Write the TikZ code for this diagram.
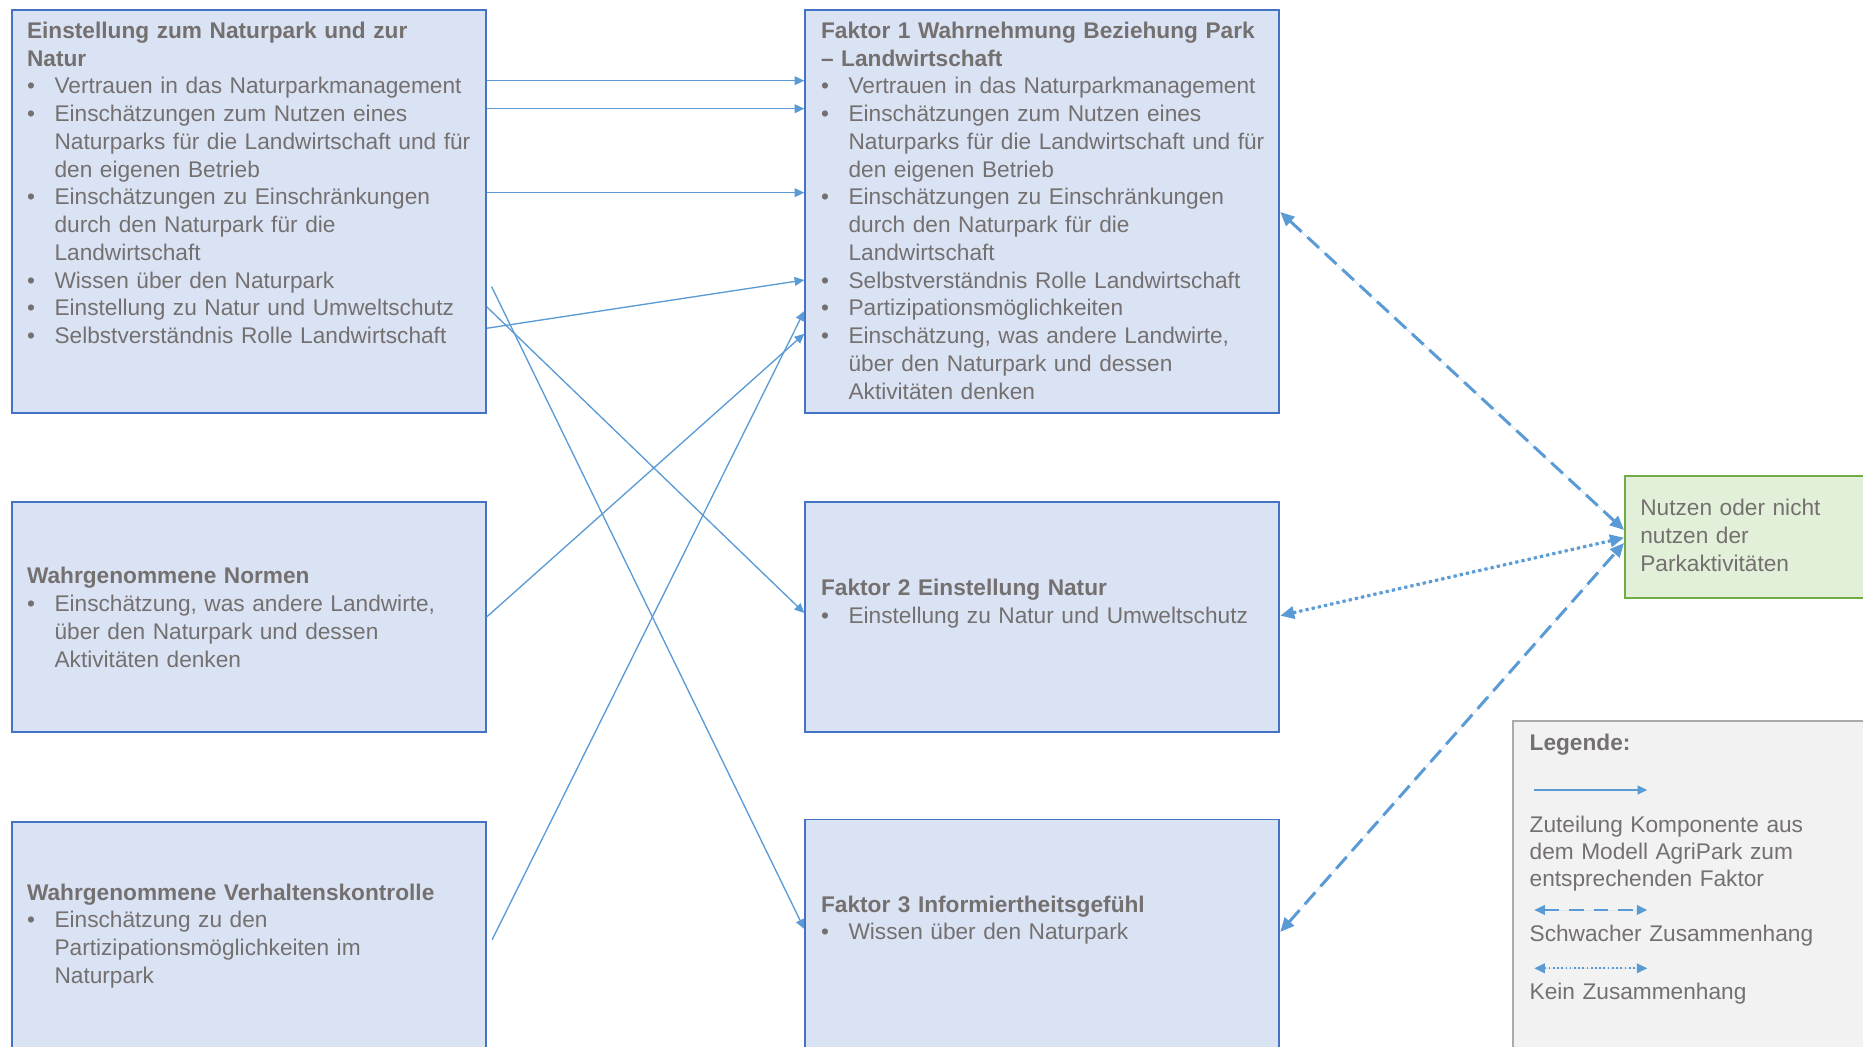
\documentclass[tikz,border=0pt]{standalone}
\usepackage{fontspec}
\setmainfont{Liberation Sans}
\usetikzlibrary{arrows.meta, positioning, calc}
\definecolor{BoxFill}{HTML}{DAE3F3}
\definecolor{BoxLine}{HTML}{4472C4}
\definecolor{Link}{HTML}{5B9BD5}
\definecolor{Txt}{HTML}{757070}
\definecolor{GreenFill}{HTML}{E2F0D9}
\definecolor{GreenLine}{HTML}{70AD47}
\definecolor{LegFill}{HTML}{F2F2F2}
\definecolor{LegLine}{HTML}{ABABAB}
\newcommand{\bul}[1]{\par\hangindent=0.55cm\hangafter=1\noindent\makebox[0.55cm][l]{\textbullet}#1\par}

\begin{document}
\begin{tikzpicture}[
    x=1cm,
    y=1cm,
    font=\fontsize{12.9}{15.8}\selectfont,
    comp/.style={draw=BoxLine, fill=BoxFill, line width=1.1pt, minimum width=9.48cm, anchor=north west, inner sep=0pt},
    bigbox/.style={comp, minimum height=8.054cm},
    lowbox/.style={comp, minimum height=4.586cm},
    txt/.style={text=Txt, text width=9cm, align=left, inner sep=0pt, anchor=base west},
    assign/.style={-{Triangle[length=5.5pt,width=5pt]}, line width=0.75pt, draw=Link, fill=Link},
    weak/.style={{Triangle[length=8pt,width=7pt]}-{Triangle[length=8pt,width=7pt]}, line width=1.7pt, draw=Link, fill=Link, dash pattern=on 9pt off 4.5pt},
    nolink/.style={{Triangle[length=8pt,width=7pt]}-{Triangle[length=8pt,width=7pt]}, line width=1.8pt, draw=Link, fill=Link, dash pattern=on 1.8pt off 1.8pt},
    legweak/.style={{Triangle[length=6pt,width=5.5pt]}-{Triangle[length=6pt,width=5.5pt]}, line width=1.2pt, draw=Link, fill=Link, dash pattern=on 8.5pt off 5.5pt},
    legnolink/.style={{Triangle[length=6pt,width=5.5pt]}-{Triangle[length=6pt,width=5.5pt]}, line width=1pt, draw=Link, fill=Link, dash pattern=on 1pt off 1.4pt}
  ]
  \useasboundingbox (0,0) rectangle (37.26,-20.94);
  \clip (0,0) rectangle (37.26,-20.94);
  \fill[white] (0,0) rectangle (37.26,-20.94);

  \node[bigbox] (einst) at (0.214,-0.19) {};
  \node[lowbox] (normen) at (0.214,-10.026) {};
  \node[lowbox, minimum height=4.7cm] (kontrolle) at (0.214,-16.42) {};

  \node[bigbox] (faktorEins) at (16.086,-0.19) {};
  \node[lowbox] (faktorZwei) at (16.086,-10.026) {};
  \node[lowbox, minimum height=4.7cm] (faktorDrei) at (16.086,-16.37) {};

  \node[draw=GreenLine, fill=GreenFill, line width=1.1pt, minimum width=6cm, minimum height=2.44cm, anchor=north west, inner sep=0pt] (nutzen) at (32.48,-9.5) {};
  \node[draw=LegLine, fill=LegFill, line width=1.1pt, minimum width=8cm, minimum height=7cm, anchor=north west, inner sep=0pt] (legende) at (30.24,-14.4) {};

  \node[txt] (einstText) at ([shift={(0.32,-0.576)}]einst.north west) {\textbf{Einstellung zum Naturpark und zur}\newline\textbf{Natur}
    \bul{Vertrauen in das Naturparkmanagement}
    \bul{Einschätzungen zum Nutzen eines\newline Naturparks für die Landwirtschaft und für\newline den eigenen Betrieb}
    \bul{Einschätzungen zu Einschränkungen\newline durch den Naturpark für die\newline Landwirtschaft}
    \bul{Wissen über den Naturpark}
    \bul{Einstellung zu Natur und Umweltschutz}
    \bul{Selbstverständnis Rolle Landwirtschaft}};
  \node[txt] (normenText) at ([shift={(0.32,-1.654)}]normen.north west) {\textbf{Wahrgenommene Normen}
    \bul{Einschätzung, was andere Landwirte,\newline über den Naturpark und dessen\newline Aktivitäten denken}};
  \node[txt] (kontrolleText) at ([shift={(0.32,-1.58)}]kontrolle.north west) {\textbf{Wahrgenommene Verhaltenskontrolle}
    \bul{Einschätzung zu den\newline Partizipationsmöglichkeiten im\newline Naturpark}};

  \node[txt] (faktorEinsText) at ([shift={(0.328,-0.576)}]faktorEins.north west) {\textbf{Faktor 1 Wahrnehmung Beziehung Park}\newline\textbf{– Landwirtschaft}
    \bul{Vertrauen in das Naturparkmanagement}
    \bul{Einschätzungen zum Nutzen eines\newline Naturparks für die Landwirtschaft und für\newline den eigenen Betrieb}
    \bul{Einschätzungen zu Einschränkungen\newline durch den Naturpark für die\newline Landwirtschaft}
    \bul{Selbstverständnis Rolle Landwirtschaft}
    \bul{Partizipationsmöglichkeiten}
    \bul{Einschätzung, was andere Landwirte,\newline über den Naturpark und dessen\newline Aktivitäten denken}};
  \node[txt] (faktorZweiText) at ([shift={(0.328,-1.894)}]faktorZwei.north west) {\textbf{Faktor 2 Einstellung Natur}
    \bul{Einstellung zu Natur und Umweltschutz}};
  \node[txt] (faktorDreiText) at ([shift={(0.328,-1.87)}]faktorDrei.north west) {\textbf{Faktor 3 Informiertheitsgefühl}
    \bul{Wissen über den Naturpark}};

  \node[txt, text width=5cm] (nutzenText) at ([shift={(0.32,-0.82)}]nutzen.north west) {Nutzen oder nicht\newline nutzen der\newline Parkaktivitäten};

  \draw[assign] ([yshift=-1.424cm]einst.north east) -- ([yshift=-1.424cm]faktorEins.north west);
  \draw[assign] ([yshift=-1.984cm]einst.north east) -- ([yshift=-1.984cm]faktorEins.north west);
  \draw[assign] ([yshift=-3.664cm]einst.north east) -- ([yshift=-3.664cm]faktorEins.north west);
  \draw[assign] ([yshift=-6.376cm]einst.north east) -- ([yshift=-5.41cm]faktorEins.north west);
  \draw[assign] ([shift={(0.1,-5.544)}]einst.north east) -- ([yshift=-2.21cm]faktorDrei.north west);
  \draw[assign] ([yshift=-5.944cm]einst.north east) -- ([yshift=-2.234cm]faktorZwei.north west);
  \draw[assign] ([yshift=-2.314cm]normen.north east) -- ([yshift=-6.486cm]faktorEins.north west);
  \draw[assign] ([shift={(0.11,-2.374)}]kontrolle.north east) -- ([yshift=-6.03cm]faktorEins.north west);

  \draw[weak] ([yshift=-4.05cm]faktorEins.north east) -- ([yshift=-1.1cm]nutzen.north west);
  \draw[nolink] ([yshift=-2.288cm]faktorZwei.north east) -- ([yshift=-1.254cm]nutzen.north west);
  \draw[weak] ([yshift=-2.27cm]faktorDrei.north east) -- ([yshift=-1.36cm]nutzen.north west);

  \node[txt] (legTitel) at ([shift={(0.346,-0.62)}]legende.north west) {\textbf{Legende:}};
  \coordinate (legA1) at ([shift={(0.446,-1.4)}]legende.north west);
  \coordinate (legA2) at ([shift={(2.706,-1.4)}]legende.north west);
  \draw[assign] (legA1) -- (legA2);
  \node[txt, text width=7cm, font=\fontsize{12.9}{15.4}\selectfont] (legZuteilung) at ([shift={(0.346,-2.246)}]legende.north west) {Zuteilung Komponente aus\newline dem Modell AgriPark zum\newline entsprechenden Faktor};
  \coordinate (legB1) at ([shift={(0.446,-3.8)}]legende.north west);
  \coordinate (legB2) at ([shift={(2.706,-3.8)}]legende.north west);
  \draw[legweak] (legB1) -- (legB2);
  \node[txt] (legSchwach) at ([shift={(0.346,-4.43)}]legende.north west) {Schwacher Zusammenhang};
  \coordinate (legC1) at ([shift={(0.446,-4.966)}]legende.north west);
  \coordinate (legC2) at ([shift={(2.706,-4.966)}]legende.north west);
  \draw[legnolink] (legC1) -- (legC2);
  \node[txt] (legKein) at ([shift={(0.346,-5.58)}]legende.north west) {Kein Zusammenhang};
\end{tikzpicture}
\end{document}
